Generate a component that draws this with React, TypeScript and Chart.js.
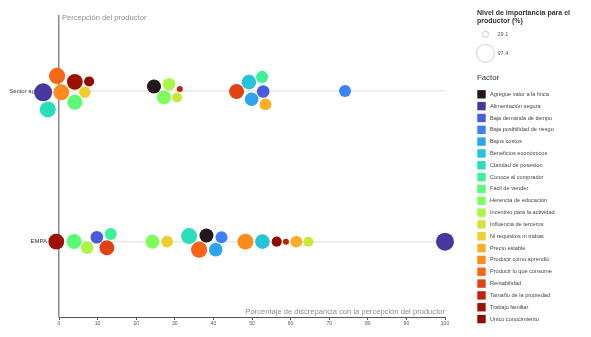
import React, { useEffect, useRef } from "react";
import { Chart, registerables } from "chart.js";

Chart.register(...registerables);

// ---------- data ----------
const factors = [
  "Agregue valor a la finca",
  "Alimentación segura",
  "Baja demanda de tiempo",
  "Baja posibilidad de riesgo",
  "Bajos costos",
  "Beneficios económicos",
  "Claridad de posesión",
  "Conoce al comprador",
  "Facil de vender",
  "Herencia de educación",
  "Incentivo para la actividad",
  "Influencia de terceros",
  "Ni requisitos ni trabas",
  "Precio estable",
  "Producir como aprendió",
  "Producir lo que consume",
  "Rentabilidad",
  "Tamaño de la propiedad",
  "Trabajo familiar",
  "Unico conocimiento",
];
// Nivel de importancia para el productor (%)
const importance = [
  74.6, 97.4, 66.7, 63.2, 72.4, 78.0, 86.0, 63.5, 80.3, 75.1,
  66.2, 51.9, 61.0, 62.8, 85.7, 87.2, 79.8, 29.1, 84.9, 52.4,
];

const rowLabels = ["Sector agrope", "EMPA"];

const sectorFactors = [
  "Producir como aprendió",
  "Alimentación segura",
  "Ni requisitos ni trabas",
  "Trabajo familiar",
  "Facil de vender",
  "Producir lo que consume",
  "Claridad de posesión",
  "Unico conocimiento",
  "Herencia de educación",
  "Influencia de terceros",
  "Agregue valor a la finca",
  "Incentivo para la actividad",
  "Tamaño de la propiedad",
  "Rentabilidad",
  "Baja demanda de tiempo",
  "Beneficios económicos",
  "Bajos costos",
  "Conoce al comprador",
  "Precio estable",
  "Baja posibilidad de riesgo",
];
const sectorValues = [
  0.6, -4.1, 6.7, 4.1, 4.1, -0.5, -2.9, 7.8, 27.2, 30.6,
  24.6, 28.5, 31.3, 46.0, 52.9, 49.2, 49.9, 52.6, 53.5, 74.1,
];

const empaFactors = [
  "Trabajo familiar",
  "Incentivo para la actividad",
  "Rentabilidad",
  "Facil de vender",
  "Baja demanda de tiempo",
  "Conoce al comprador",
  "Herencia de educación",
  "Ni requisitos ni trabas",
  "Producir lo que consume",
  "Bajos costos",
  "Claridad de posesión",
  "Agregue valor a la finca",
  "Baja posibilidad de riesgo",
  "Producir como aprendió",
  "Beneficios económicos",
  "Unico conocimiento",
  "Tamaño de la propiedad",
  "Precio estable",
  "Influencia de terceros",
  "Alimentación segura",
];
const empaValues = [
  -0.7, 7.3, 12.4, 3.9, 9.8, 13.4, 24.2, 28.0, 36.3, 40.6,
  33.7, 38.2, 42.1, 48.3, 52.7, 56.4, 58.8, 61.5, 64.6, 100,
];

const xTicks = [0, 10, 20, 30, 40, 50, 60, 70, 80, 90, 100];
const xTitle = "Porcentaje de discrepancia con la percepción del productor";
const yTitle = "Percepción del productor";
const sizeTitle = ["Nivel de importancia para el", "productor (%)"];
const colorTitle = "Factor";

// ---------- helpers ----------
const FONT = "'Liberation Sans', Arial, sans-serif";
const minImp = Math.min(...importance);
const maxImp = Math.max(...importance);
const R_MIN = 3;
const R_MAX = 9;
const radiusFor = (v: number) =>
  R_MIN + ((v - minImp) / (maxImp - minImp)) * (R_MAX - R_MIN);

function turbo(t: number) {
  t = Math.max(0, Math.min(1, t));
  const r = Math.max(0, Math.min(255, Math.round(34.61 + t * (1172.33 - t * (10793.56 - t * (33300.12 - t * (38394.49 - t * 14825.05)))))));
  const g = Math.max(0, Math.min(255, Math.round(23.31 + t * (557.33 + t * (1225.33 - t * (3574.96 - t * (1073.77 + t * 707.56)))))));
  const b = Math.max(0, Math.min(255, Math.round(27.2 + t * (3211.1 - t * (15327.97 - t * (27814 - t * (22569.18 - t * 6838.66)))))));
  return `rgb(${r},${g},${b})`;
}
const colorFor = (name: string) => turbo(factors.indexOf(name) / (factors.length - 1));
const impFor = (name: string) => importance[factors.indexOf(name)];

// beeswarm: greedy vertical dodge in pixel space, then re-centre each cluster
function dodge(xs: number[], rs: number[], pad: number): number[] {
  const n = xs.length;
  const ys: number[] = [];
  for (let i = 0; i < n; i++) {
    const cands = [0];
    for (let j = 0; j < i; j++) {
      const dx = xs[i] - xs[j];
      const need = rs[i] + rs[j] + pad;
      if (Math.abs(dx) < need) {
        const h = Math.sqrt(need * need - dx * dx);
        cands.push(ys[j] + h, ys[j] - h);
      }
    }
    cands.sort((a, b) => Math.abs(a) - Math.abs(b) || a - b);
    let chosen = 0;
    for (const c of cands) {
      let ok = true;
      for (let j = 0; j < i; j++) {
        const dx = xs[i] - xs[j];
        const dy = c - ys[j];
        const need = rs[i] + rs[j] + pad;
        if (dx * dx + dy * dy < need * need - 1e-6) { ok = false; break; }
      }
      if (ok) { chosen = c; break; }
    }
    ys.push(chosen);
  }
  // clusters (union-find)
  const parent = xs.map((_, i) => i);
  const find = (a: number): number => (parent[a] === a ? a : (parent[a] = find(parent[a])));
  for (let i = 0; i < n; i++)
    for (let j = 0; j < i; j++)
      if (Math.abs(xs[i] - xs[j]) < rs[i] + rs[j] + pad) parent[find(i)] = find(j);
  const sums: Record<number, { s: number; c: number }> = {};
  for (let i = 0; i < n; i++) {
    const k = find(i);
    sums[k] = sums[k] || { s: 0, c: 0 };
    sums[k].s += ys[i];
    sums[k].c += 1;
  }
  return ys.map((y, i) => y - sums[find(i)].s / sums[find(i)].c);
}

const rows = [
  { label: rowLabels[0], y: 1, names: sectorFactors, values: sectorValues },
  { label: rowLabels[1], y: 0, names: empaFactors, values: empaValues },
];

const textPlugin = {
  id: "texts",
  beforeDatasetsDraw(chart: any) {
    const ctx = chart.ctx;
    const area = chart.chartArea;
    ctx.save();
    ctx.fillStyle = "#8c8c8c";
    ctx.font = `7.6px ${FONT}`;
    ctx.textBaseline = "middle";
    ctx.textAlign = "left";
    ctx.fillText(yTitle, area.left + 3, area.top + 2.5);
    ctx.textAlign = "right";
    ctx.fillText(xTitle, area.right, area.bottom - 5);
    ctx.restore();
  },
  afterDraw(chart: any) {
    const ctx = chart.ctx;
    const lx = 477;
    ctx.save();
    ctx.textBaseline = "middle";
    ctx.textAlign = "left";
    ctx.fillStyle = "#333";
    ctx.font = `bold 7px ${FONT}`;
    ctx.fillText(sizeTitle[0], lx, 13);
    ctx.fillText(sizeTitle[1], lx, 21);
    // size legend
    const sizes = [minImp, maxImp];
    const sy = [34.3, 53.3];
    sizes.forEach((v, i) => {
      ctx.beginPath();
      ctx.arc(485.5, sy[i], radiusFor(v), 0, Math.PI * 2);
      ctx.fillStyle = "#fff";
      ctx.fill();
      ctx.strokeStyle = "#d9d9d9";
      ctx.lineWidth = 1.2;
      ctx.stroke();
      ctx.fillStyle = "#555";
      ctx.font = `5.5px ${FONT}`;
      ctx.fillText(v.toFixed(1), 497.5, sy[i]);
    });
    ctx.fillStyle = "#333";
    ctx.font = `7.8px ${FONT}`;
    ctx.fillText(colorTitle, lx, 77.5);
    factors.forEach((f, i) => {
      const cy = 94.3 + i * 11.83;
      ctx.fillStyle = colorFor(f);
      ctx.fillRect(lx + 0.3, cy - 4.2, 8.4, 8.4);
      ctx.fillStyle = "#444";
      ctx.font = `5.6px ${FONT}`;
      ctx.fillText(f, 490, cy);
    });
    ctx.restore();
  },
};

export default function App() {
  const ref = useRef<HTMLCanvasElement | null>(null);
  useEffect(() => {
    if (!ref.current) return;
    const chart = new Chart(ref.current, {
      type: "bubble",
      data: {
        datasets: rows.map((row) => ({
          label: row.label,
          data: row.values.map((v, i) => ({ x: v, y: row.y, r: radiusFor(impFor(row.names[i])) })),
          backgroundColor: row.names.map((n) => colorFor(n)),
          borderWidth: 0,
          hoverBorderWidth: 0,
          hoverRadius: 40,
          clip: false as any,
        })),
      },
      options: {
        responsive: false,
        animation: false,
        events: [],
        layout: { autoPadding: false, padding: { left: 0, right: 146, top: 15, bottom: 0 } },
        plugins: { legend: { display: false }, tooltip: { enabled: false } },
        scales: {
          x: {
            type: "linear",
            min: 0,
            max: 100,
            afterFit: (s: any) => { s.height = 20; },
            afterBuildTicks: (s: any) => { s.ticks = xTicks.map((v) => ({ value: v })); },
            ticks: { font: { size: 5, family: FONT }, color: "#555", padding: 1, maxRotation: 0 },
            grid: { drawOnChartArea: false, drawTicks: true, tickLength: 3, color: "#555", lineWidth: 1 },
            border: { display: true, color: "#555", width: 1 },
          },
          y: {
            type: "linear",
            min: -0.5,
            max: 1.5,
            afterFit: (s: any) => { s.width = 59; },
            afterBuildTicks: (s: any) => { s.ticks = rows.map((r) => ({ value: r.y })); },
            ticks: {
              font: { size: 6, family: FONT },
              color: "#333",
              padding: 12,
              callback: (v: any) => (rows.find((r) => r.y === v) || { label: "" }).label,
            },
            grid: { drawTicks: false, color: "#e8e8e8", lineWidth: 1.5 },
            border: { display: true, color: "#8a8a8a", width: 1.5 },
          },
        },
      },
      plugins: [textPlugin],
    });

    // beeswarm placement through the chart's own scales
    const xs = chart.scales.x;
    const ysc = chart.scales.y;
    rows.forEach((row, k) => {
      const px = row.values.map((v) => xs.getPixelForValue(v));
      const rs = row.names.map((n) => radiusFor(impFor(n)));
      const dys = dodge(px, rs, 0.8);
      const base = ysc.getPixelForValue(row.y);
      const ds = chart.data.datasets[k].data as any[];
      ds.forEach((p, i) => { p.y = ysc.getValueForPixel(base + dys[i]); });
    });
    chart.update();
    return () => chart.destroy();
  }, []);

  return (
    <div style={{ position: "absolute", left: 0, top: 0, width: 591, height: 337, background: "#fff" }}>
      <canvas ref={ref} width={591} height={337} style={{ display: "block" }} />
    </div>
  );
}
